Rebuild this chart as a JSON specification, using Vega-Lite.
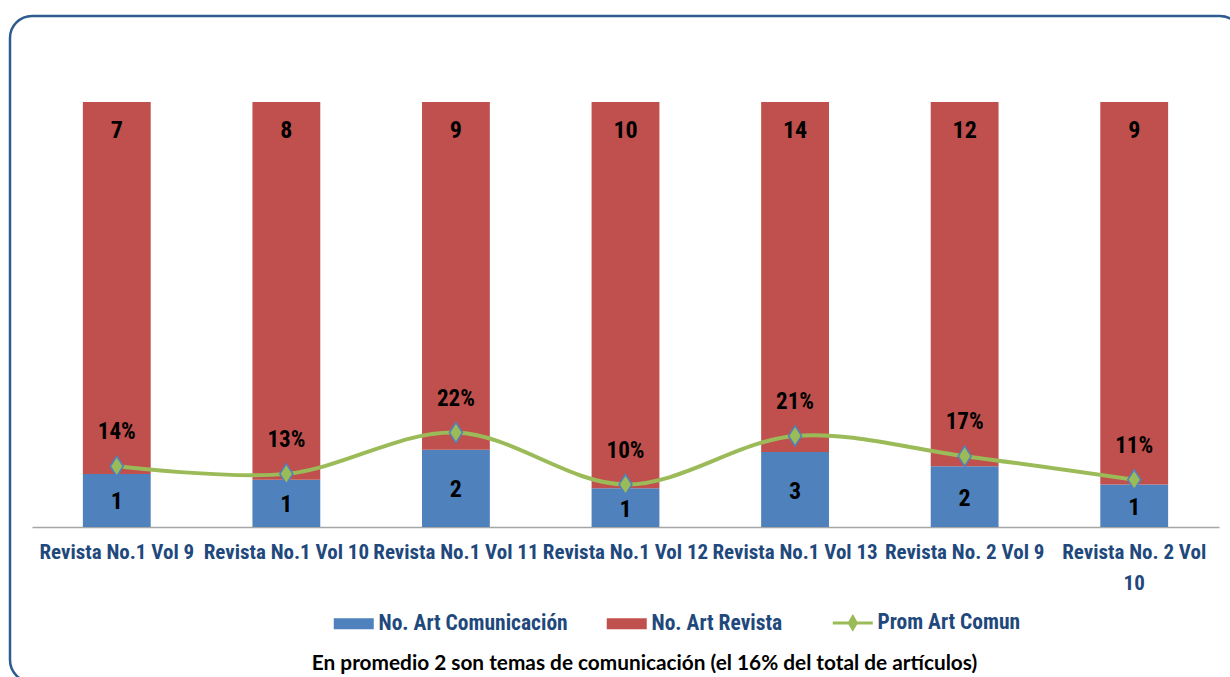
{
  "$schema": "https://vega.github.io/schema/vega-lite/v6.json",
  "width": 1232,
  "height": 666,
  "autosize": "none",
  "padding": {"left": 10, "top": 16, "right": -12, "bottom": -5},
  "background": "white",
  "config": {
    "view": {"stroke": "#2E5C8E", "strokeWidth": 2.5, "cornerRadius": 22},
    "font": "Roboto Condensed, Roboto, sans-serif"
  },
  "datasets": {
    "bars": [
      {"rev": "Revista No.1 Vol 9", "serie": "No. Art Comunicación", "n": 1},
      {"rev": "Revista No.1 Vol 9", "serie": "No.  Art Revista", "n": 7},
      {"rev": "Revista No.1 Vol 10", "serie": "No. Art Comunicación", "n": 1},
      {"rev": "Revista No.1 Vol 10", "serie": "No.  Art Revista", "n": 8},
      {"rev": "Revista No.1 Vol 11", "serie": "No. Art Comunicación", "n": 2},
      {"rev": "Revista No.1 Vol 11", "serie": "No.  Art Revista", "n": 9},
      {"rev": "Revista No.1 Vol 12", "serie": "No. Art Comunicación", "n": 1},
      {"rev": "Revista No.1 Vol 12", "serie": "No.  Art Revista", "n": 10},
      {"rev": "Revista No.1 Vol 13", "serie": "No. Art Comunicación", "n": 3},
      {"rev": "Revista No.1 Vol 13", "serie": "No.  Art Revista", "n": 14},
      {"rev": "Revista No. 2 Vol 9", "serie": "No. Art Comunicación", "n": 2},
      {"rev": "Revista No. 2 Vol 9", "serie": "No.  Art Revista", "n": 12},
      {"rev": "Revista No. 2 Vol 10", "serie": "No. Art Comunicación", "n": 1},
      {"rev": "Revista No. 2 Vol 10", "serie": "No.  Art Revista", "n": 9}
    ],
    "prom": [
      {"rev": "Revista No.1 Vol 9", "pct": 0.1429, "lbl": "14%"},
      {"rev": "Revista No.1 Vol 10", "pct": 0.125, "lbl": "13%"},
      {"rev": "Revista No.1 Vol 11", "pct": 0.2222, "lbl": "22%"},
      {"rev": "Revista No.1 Vol 12", "pct": 0.1, "lbl": "10%"},
      {"rev": "Revista No.1 Vol 13", "pct": 0.2143, "lbl": "21%"},
      {"rev": "Revista No. 2 Vol 9", "pct": 0.1667, "lbl": "17%"},
      {"rev": "Revista No. 2 Vol 10", "pct": 0.1111, "lbl": "11%"}
    ]
  },
  "encoding": {
    "x": {
      "field": "rev",
      "type": "nominal",
      "sort": null,
      "scale": {"range": [22, 1209], "paddingInner": 0.6, "paddingOuter": 0.3},
      "axis": {
        "title": "En promedio 2 son temas de comunicación (el 16% del total de artículos)",
        "offset": -155,
        "ticks": false,
        "domainColor": "#A6A6A6",
        "domainWidth": 1.5,
        "labelAngle": 0,
        "labelFont": "Roboto Condensed, Roboto, sans-serif",
        "labelFontWeight": "bold",
        "labelFontSize": 21,
        "labelColor": "#1F497D",
        "labelPadding": 14,
        "labelOverlap": false,
        "labelBound": false,
        "labelLimit": 400,
        "labelLineHeight": 31,
        "labelExpr": "datum.value == 'Revista No. 2 Vol 10' ? ['Revista No. 2 Vol', '10'] : datum.value",
        "titleFont": "Lato",
        "titleFontSize": 20.8,
        "titleFontWeight": "bold",
        "titleColor": "#000000",
        "titleX": 634,
        "titleY": 142,
        "titleAlign": "center",
        "titleBaseline": "alphabetic"
      }
    }
  },
  "layer": [
    {
      "data": {"name": "bars"},
      "transform": [
        {"stack": "n", "groupby": ["rev"], "sort": [{"field": "serie", "order": "descending"}], "offset": "normalize", "as": ["y0", "y1"]},
        {"calculate": "(datum.y0 + datum.y1) / 2", "as": "ym"}
      ],
      "layer": [
        {
          "mark": {"type": "bar"},
          "encoding": {
            "y": {"field": "y0", "type": "quantitative", "scale": {"domain": [0, 1], "range": [511, 86], "nice": false}, "axis": null},
            "y2": {"field": "y1"},
            "color": {
              "field": "serie",
              "type": "nominal",
              "scale": {"domain": ["No. Art Comunicación", "No.  Art Revista", "Prom Art Comun"], "range": ["#4F81BD", "#C0504D", "#9BBB59"]},
              "legend": {
                "orient": "none",
                "direction": "horizontal",
                "legendX": 333,
                "legendY": 596,
                "title": null,
                "symbolSize": 400,
                "labelFont": "Roboto Condensed, Roboto, sans-serif",
                "labelFontSize": 21.5,
                "labelFontWeight": "bold",
                "labelColor": "#1F497D",
                "labelOffset": 14,
                "columnPadding": 38,
                "labelLimit": 400,
                "encode": {
                  "symbols": {
                    "update": {
                      "shape": {"signal": "datum.value === 'Prom Art Comun' ? 'M-2,0L2,0M0,-0.6L0.35,0L0,0.6L-0.35,0Z' : 'M-2,-0.55L2,-0.55L2,0.55L-2,0.55Z'"},
                      "fill": {"signal": "scale('color', datum.value)"},
                      "stroke": {"signal": "scale('color', datum.value)"},
                      "strokeWidth": {"signal": "datum.value === 'Prom Art Comun' ? 3 : 0"},
                      "opacity": {"value": 1}
                    }
                  }
                }
              }
            }
          }
        },
        {
          "transform": [{"filter": "datum.serie === 'No. Art Comunicación'"}],
          "mark": {"type": "text", "fontWeight": "bold", "fontSize": 24, "color": "#000000", "baseline": "middle", "dy": 2},
          "encoding": {
            "y": {"field": "ym", "type": "quantitative"},
            "text": {"field": "n", "type": "quantitative"}
          }
        },
        {
          "transform": [{"filter": "datum.serie === 'No.  Art Revista'"}],
          "mark": {"type": "text", "fontWeight": "bold", "fontSize": 24, "color": "#000000", "baseline": "middle", "dy": 29},
          "encoding": {
            "y": {"field": "y1", "type": "quantitative"},
            "text": {"field": "n", "type": "quantitative"}
          }
        }
      ]
    },
    {
      "data": {"name": "prom"},
      "layer": [
        {
          "mark": {"type": "line", "interpolate": "catmull-rom", "strokeWidth": 4},
          "encoding": {
            "y": {"field": "pct", "type": "quantitative"},
            "color": {"datum": "Prom Art Comun", "type": "nominal"}
          }
        },
        {
          "mark": {"type": "point", "shape": "M0,-1L0.65,0L0,1L-0.65,0Z", "filled": true, "fill": "#9BBB59", "stroke": "#4F81BD", "strokeWidth": 1.5, "size": 400, "opacity": 1},
          "encoding": {
            "y": {"field": "pct", "type": "quantitative"}
          }
        },
        {
          "mark": {"type": "text", "fontWeight": "bold", "fontSize": 23, "color": "#000000", "baseline": "middle", "dy": -34},
          "encoding": {
            "y": {"field": "pct", "type": "quantitative"},
            "text": {"field": "lbl", "type": "nominal"}
          }
        }
      ]
    }
  ]
}
